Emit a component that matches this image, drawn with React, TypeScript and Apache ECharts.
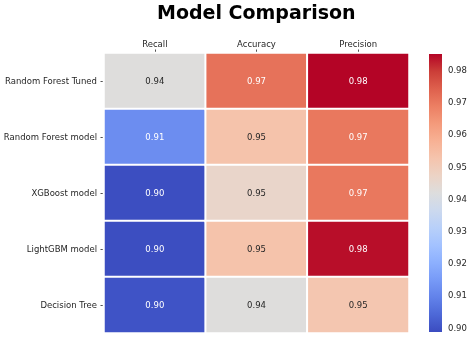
import React, { useEffect, useRef } from "react";
import * as echarts from "echarts";

const metrics = ["Recall", "Accuracy", "Precision"];
const models = ["Random Forest Tuned", "Random Forest model", "XGBoost model", "LightGBM model", "Decision Tree"];
const recall = [0.942, 0.912, 0.899, 0.899, 0.9];
const accuracy = [0.971, 0.953, 0.946, 0.953, 0.942];
const precision = [0.985, 0.97, 0.97, 0.984, 0.952];
const colorbarTicks = [0.9, 0.91, 0.92, 0.93, 0.94, 0.95, 0.96, 0.97, 0.98];
const vMin = 0.89866;
const vMax = 0.98497;
const coolwarm = [
  "#3b4cc0", "#4d68d7", "#6282ea", "#779af7", "#8db0fe", "#a3c2ff", "#b8d0f9", "#ccd9ee",
  "#dddddd", "#ecd3c5", "#f5c4ad", "#f7b194", "#f49a7b", "#ec7f63", "#de604d", "#cb3e38", "#b40426",
];

const FONT = "DejaVu Sans";
const TEXT = "#262626";

export default function App() {
  const ref = useRef<HTMLDivElement>(null);
  useEffect(() => {
    if (!ref.current) return;
    const chart = echarts.init(ref.current, undefined, { renderer: "svg" });
    const cols = [recall, accuracy, precision];
    const data: any[] = [];
    cols.forEach((arr, xi) => {
      arr.forEach((v, yi) => {
        const light = v >= 0.965 || v <= 0.925;
        data.push({ value: [xi, yi, v], label: { color: light ? "#ffffff" : TEXT } });
      });
    });
    const n = coolwarm.length - 1;
    const gradientStops = coolwarm
      .slice()
      .reverse()
      .map((c, i) => ({ offset: i / n, color: c }));
    chart.setOption({
      animation: false,
      title: {
        text: "Model Comparison",
        left: 157,
        top: 2,
        padding: 0,
        textStyle: { fontFamily: FONT, fontWeight: "bold", fontSize: 19, color: "#000" },
      },
      grid: [
        { left: 104, top: 53, width: 305, height: 280 },
        { left: 429, top: 54, width: 13, height: 278 },
      ],
      xAxis: [
        {
          type: "category",
          gridIndex: 0,
          position: "top",
          data: metrics,
          axisLine: { show: false },
          axisTick: { show: true, length: 3.5, alignWithLabel: true, lineStyle: { color: TEXT, width: 0.8 } },
          axisLabel: { fontFamily: FONT, fontSize: 8.5, color: TEXT, margin: 5 },
          splitLine: { show: false },
        },
        { type: "value", gridIndex: 1, show: false, min: 0, max: 1 },
      ],
      yAxis: [
        {
          type: "category",
          gridIndex: 0,
          inverse: true,
          data: models,
          axisLine: { show: false },
          axisTick: { show: true, length: 3.5, alignWithLabel: true, lineStyle: { color: TEXT, width: 0.8 } },
          axisLabel: { fontFamily: FONT, fontSize: 8.5, color: TEXT, margin: 7 },
          splitLine: { show: false },
        },
        {
          type: "value",
          gridIndex: 1,
          position: "right",
          min: vMin,
          max: vMax,
          axisLine: { show: false },
          splitLine: { show: false },
          axisTick: { show: true, length: 3.5, customValues: colorbarTicks, lineStyle: { color: TEXT, width: 0.8 } },
          axisLabel: {
            fontFamily: FONT,
            fontSize: 8.5,
            color: TEXT,
            margin: 6,
            customValues: colorbarTicks,
            formatter: (v: number) => v.toFixed(2),
          },
        },
      ],
      visualMap: {
        type: "continuous",
        show: false,
        min: vMin,
        max: vMax,
        seriesIndex: [0],
        inRange: { color: coolwarm },
      },
      series: [
        {
          type: "heatmap",
          xAxisIndex: 0,
          yAxisIndex: 0,
          data,
          itemStyle: { borderColor: "#ffffff", borderWidth: 2 },
          label: {
            show: true,
            fontFamily: FONT,
            fontSize: 8.5,
            formatter: (p: any) => Number(p.value[2]).toFixed(2),
          },
          emphasis: { disabled: true },
        },
        {
          type: "custom",
          xAxisIndex: 1,
          yAxisIndex: 1,
          silent: true,
          data: [[0, vMin]],
          renderItem: (_params: any, api: any) => {
            const p0 = api.coord([0, vMax]);
            const p1 = api.coord([1, vMin]);
            return {
              type: "rect",
              shape: { x: p0[0], y: p0[1], width: p1[0] - p0[0], height: p1[1] - p0[1] },
              style: {
                fill: new echarts.graphic.LinearGradient(0, 0, 0, 1, gradientStops),
              },
            };
          },
        },
      ],
    });
    return () => chart.dispose();
  }, []);
  return <div ref={ref} style={{ position: "fixed", left: 0, top: 0, width: 474, height: 338 }} />;
}
